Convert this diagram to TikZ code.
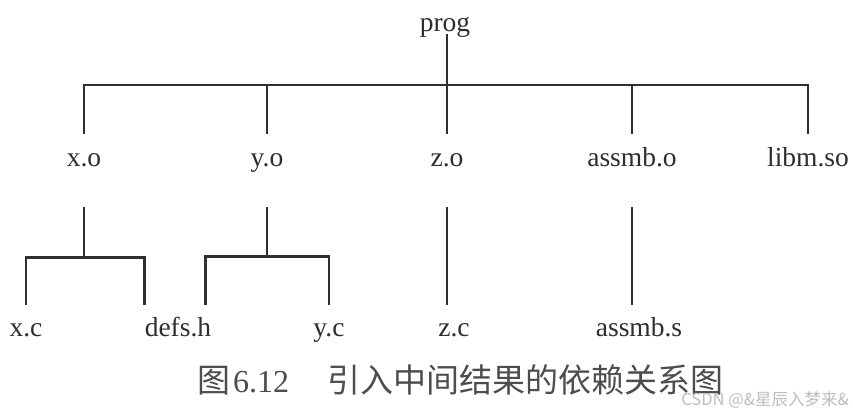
\documentclass[tikz,border=0pt]{standalone}
\usepackage{fontspec}
\setmainfont{Liberation Serif}
\newfontfamily\cjkfont{Noto Sans CJK SC}
\usepackage{xcolor}
\usepackage{tikz}
\usetikzlibrary{calc,positioning}
\definecolor{ink}{HTML}{2E2E2E}
\definecolor{wire}{HTML}{303030}
\definecolor{capgray}{HTML}{4D4D4D}
\definecolor{wmgray}{HTML}{BDBDBD}
\tikzset{
  file/.style={font=\fontsize{27.5pt}{30pt}\selectfont, text=ink, inner sep=0pt, anchor=base},
  rootfile/.style={file, text height=20pt, text depth=3pt},
  objfile/.style={file, text height=32pt, text depth=41pt},
  srcfile/.style={file, text height=31pt, text depth=6pt},
  link/.style={draw=wire, line width=2.8pt},
  figcaption/.style={font=\cjkfont\fontsize{33pt}{36pt}\selectfont, text=capgray, inner sep=0pt, anchor=base west},
  watermark/.style={font=\cjkfont\fontsize{16.5pt}{18pt}\selectfont, text=wmgray, inner sep=0pt, anchor=base east}
}

\begin{document}
\begin{tikzpicture}[x=1pt, y=-1pt]
  \path[fill=white, use as bounding box] (0,0) rectangle (853,408);

  % Program and the files linked into it
  \node[rootfile] (prog) at (445,31) {prog};
  \node[objfile] (xo) at (84,166) {x.o};
  \node[objfile] (yo) at (267,166) {y.o};
  \node[objfile] (zo) at (447,166) {z.o};
  \node[objfile] (asmo) at (632,166) {assmb.o};
  \node[objfile] (libm) at (808,166) {libm.so};
  \coordinate (fork) at (447,85);

  \draw[link] (prog.south -| fork) -- (fork);
  \draw[link] (xo.north) |- (fork) -| (libm.north);
  \draw[link] (yo.north) -- (yo.north |- fork);
  \draw[link] (zo.north) -- (fork);
  \draw[link] (asmo.north) -- (asmo.north |- fork);

  % Sources of the object files
  \node[srcfile] (xc) at (26,336) {x.c};
  \node[srcfile] (defs) at (178,336) {defs.h};
  \node[srcfile] (yc) at (329,336) {y.c};
  \node[srcfile] (zc) at (454,336) {z.c};
  \node[srcfile] (asms) at (639,336) {assmb.s};

  \draw[link] (xo.south) -- ++(0,50) coordinate (xfork);
  \draw[link] (xc.north) |- (xfork) -| (defs.north west);
  \draw[link] (yo.south) -- ++(0,49) coordinate (yfork);
  \draw[link] ([xshift=-6pt]defs.north east) |- (yfork) -| (yc.north);
  \draw[link] (zo.south) -- (zo.south |- zc.north);
  \draw[link] (asmo.south) -- (asmo.south |- asms.north);

  % Caption
  \node[figcaption] (cap) at (197,392) {图\hspace{3pt}{\rmfamily\fontsize{32pt}{36pt}\selectfont 6.12}\hspace{38pt}引入中间结果的依赖关系图};
  \node[watermark] (wm) at (849,405) {CSDN @\&星辰入梦来\&};
\end{tikzpicture}
\end{document}
